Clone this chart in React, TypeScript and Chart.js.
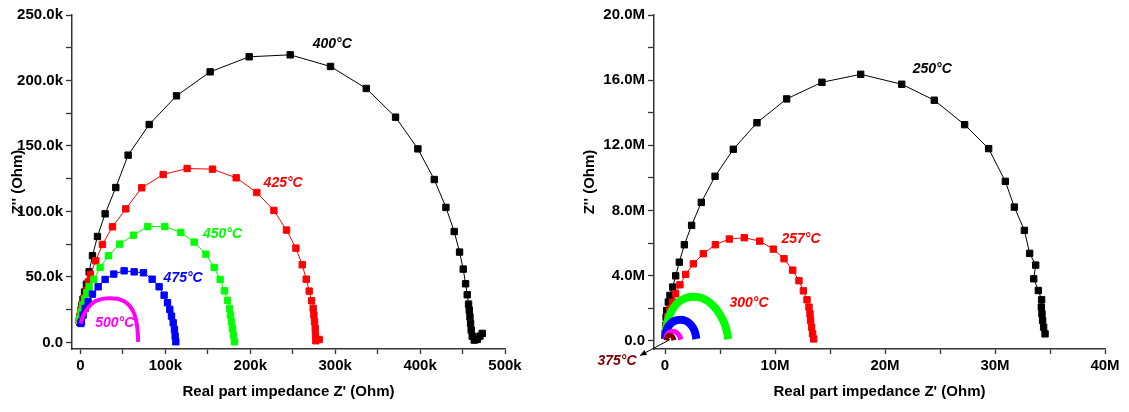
import React, { useEffect, useRef } from "react";
import { Chart, registerables } from "chart.js";

Chart.register(...registerables);

// ---------------- Left panel data (kOhm) ----------------
const l400X = [-1.0, -0.5, 0.3, 1.5, 3.0, 4.8, 7.0, 10.2, 14.1, 20.0, 29.0, 41.6, 56.1, 80.9, 113.1, 152.7, 198.7, 247.0, 294.5, 336.6, 371.1, 397.4, 416.7, 430.4, 440.2, 446.5, 450.8, 453.6, 455.5, 457.1, 457.9, 458.7, 459.5, 460.2, 461.4, 463.8, 467.3, 470.5, 473.2];
const l400Y = [15.5, 19.0, 23.5, 28.5, 33.0, 38.5, 44.5, 53.9, 66.2, 80.9, 98.2, 118.3, 143.0, 166.4, 188.3, 206.6, 218.1, 219.6, 210.7, 193.9, 172.0, 147.8, 124.4, 103.1, 84.7, 69.0, 56.0, 44.8, 36.4, 29.3, 24.7, 19.6, 14.5, 9.4, 4.8, 1.8, 2.3, 4.8, 6.9];

const l425X = [-1.6, -0.8, 0.3, 1.9, 4.3, 7.0, 9.4, 11.7, 18.0, 25.9, 37.7, 53.4, 72.2, 97.4, 125.6, 155.5, 183.4, 207.7, 227.8, 242.7, 253.7, 261.2, 265.9, 269.4, 272.2, 274.1, 274.9, 275.7, 276.5, 276.8, 277.2, 281.2];
const l425Y = [16.5, 20.0, 24.5, 28.5, 34.1, 39.9, 46.3, 51.9, 62.3, 74.8, 88.3, 102.0, 118.1, 128.2, 132.8, 132.3, 125.7, 114.5, 100.8, 85.8, 72.0, 59.3, 48.3, 39.2, 31.8, 26.0, 20.9, 15.8, 10.7, 5.6, 1.3, 2.3];

const l450X = [-0.8, -0.5, 0.7, 2.7, 5.1, 7.5, 10.2, 15.7, 23.1, 33.0, 46.3, 62.4, 79.3, 99.3, 118.2, 133.9, 147.7, 157.5, 164.5, 169.6, 173.2, 175.6, 176.7, 177.9, 179.0, 180.2, 181.4];
const l450Y = [16.5, 18.3, 23.4, 28.5, 33.1, 37.9, 42.5, 48.1, 57.3, 66.2, 75.1, 81.9, 88.5, 88.5, 84.0, 76.6, 67.4, 57.3, 48.1, 39.4, 32.1, 26.0, 20.9, 15.8, 10.7, 5.6, 0.5];

const l475X = [0.5, 1.1, 3.1, 5.5, 9.0, 14.1, 20.8, 29.0, 39.2, 51.4, 63.2, 74.2, 84.4, 92.6, 98.5, 102.5, 105.2, 107.2, 109.2, 110.7, 111.5, 112.3];
const l475Y = [14.5, 15.8, 20.9, 26.0, 31.0, 36.9, 42.5, 48.1, 52.2, 54.7, 53.9, 53.2, 48.3, 42.5, 36.1, 30.3, 25.2, 20.1, 15.0, 9.9, 4.8, 0.5];

const l500X = [0.0, 3.1, 7.0, 11.7, 18.0, 25.9, 34.5, 43.2, 50.2, 55.7, 60.0, 63.2, 65.2, 66.7, 67.5, 67.9];
const l500Y = [14.5, 20.1, 24.7, 28.5, 31.6, 33.3, 33.8, 33.3, 31.8, 29.3, 26.0, 22.1, 17.6, 12.5, 6.9, 0.5];

// ---------------- Right panel data (MOhm) ----------------
const r250X = [0.02, 0.06, 0.1, 0.15, 0.3, 0.45, 0.7, 0.97, 1.3, 1.76, 2.42, 3.3, 4.55, 6.21, 8.36, 11.06, 14.27, 17.79, 21.52, 24.48, 27.24, 29.42, 30.94, 31.76, 32.67, 33.15, 33.7, 33.52, 33.94, 34.24, 34.21, 34.27, 34.33, 34.42, 34.55];
const r250Y = [0.5, 0.95, 1.45, 1.86, 2.38, 2.79, 3.3, 3.99, 4.83, 5.9, 7.09, 8.5, 10.1, 11.76, 13.39, 14.85, 15.87, 16.36, 15.75, 14.77, 13.27, 11.8, 9.79, 8.21, 6.78, 5.37, 4.65, 3.81, 3.09, 2.52, 2.07, 1.66, 1.25, 0.84, 0.43];

const r257X = [0.02, 0.09, 0.24, 0.45, 0.7, 0.97, 1.36, 1.88, 2.58, 3.48, 4.58, 5.85, 7.21, 8.61, 9.85, 10.82, 11.61, 12.18, 12.58, 12.91, 13.09, 13.18, 13.24, 13.33, 13.42, 13.52];
const r257Y = [0.43, 0.94, 1.49, 1.97, 2.38, 2.89, 3.44, 4.08, 4.73, 5.35, 5.9, 6.25, 6.33, 6.12, 5.63, 5.04, 4.34, 3.69, 3.07, 2.52, 2.07, 1.66, 1.25, 0.84, 0.43, 0.12];

const r300X = [0.02, 0.1, 0.25, 0.5, 0.85, 1.3, 1.85, 2.45, 3.05, 3.6, 4.15, 4.65, 5.1, 5.45, 5.65, 5.75];
const r300Y = [0.25, 0.75, 1.25, 1.7, 2.1, 2.42, 2.62, 2.7, 2.68, 2.55, 2.3, 1.95, 1.5, 1.0, 0.5, 0.1];

const r325X = [0.0, 0.07, 0.22, 0.48, 0.85, 1.35, 1.85, 2.25, 2.55, 2.75, 2.85];
const r325Y = [0.1, 0.45, 0.78, 1.04, 1.22, 1.3, 1.24, 1.06, 0.8, 0.48, 0.12];

const r350X = [0.05, 0.12, 0.3, 0.6, 0.9, 1.15, 1.35, 1.45];
const r350Y = [0.08, 0.3, 0.48, 0.58, 0.56, 0.45, 0.27, 0.08];

const r375X = [0.12, 0.15, 0.28, 0.48, 0.65, 0.76, 0.8];
const r375Y = [0.03, 0.18, 0.3, 0.34, 0.28, 0.16, 0.03];

// ---------------- Tick labels ----------------
const leftXTickValues = [0, 100, 200, 300, 400, 500];
const leftXTickLabels = ["0", "100k", "200k", "300k", "400k", "500k"];
const leftYTickValues = [0, 50, 100, 150, 200, 250];
const leftYTickLabels = ["0.0", "50.0k", "100.0k", "150.0k", "200.0k", "250.0k"];
const rightXTickValues = [0, 10, 20, 30, 40];
const rightXTickLabels = ["0", "10M", "20M", "30M", "40M"];
const rightYTickValues = [0, 4, 8, 12, 16, 20];
const rightYTickLabels = ["0.0", "4.0M", "8.0M", "12.0M", "16.0M", "20.0M"];

// ---------------- Annotation texts and anchors (data units) ----------------
const leftLabelTexts = ["400°C", "425°C", "450°C", "475°C", "500°C"];
const leftLabelX = [296.5, 238.7, 167.3, 120.9, 40.4];
const leftLabelY = [227.5, 121.8, 82.4, 48.9, 14.5];
const rightLabelTexts = ["250°C", "257°C", "300°C", "375°C"];
const rightLabelX = [24.3, 12.36, 7.64, -4.36];
const rightLabelY = [16.66, 6.24, 2.33, -1.27];
const arrowFrom = { x: 0.45, y: 0.08 };
const arrowTo = { x: -2.27, y: -0.9 };

// ---------------- Styles ----------------
const FONT = "'Liberation Sans', Arial, Helvetica, sans-serif";
const BLACK = "#000000";
const RED = "#ff0000";
const GREEN = "#00ff00";
const BLUE = "#0000ff";
const MAGENTA = "#ff00ff";
const DARKRED = "#800000";
const leftLabelColors = [BLACK, RED, GREEN, BLUE, MAGENTA];
const rightLabelColors = [BLACK, RED, RED, DARKRED];

function pts(xs: number[], ys: number[]) {
  return xs.map((x, i) => ({ x, y: ys[i] }));
}

function markerSeries(xs: number[], ys: number[], color: string, extra: any = {}) {
  return {
    data: pts(xs, ys),
    borderColor: color,
    backgroundColor: color,
    showLine: true,
    pointStyle: "rect",
    pointRadius: 4.5,
    pointBorderWidth: 1,
    borderWidth: 1,
    tension: 0,
    ...extra,
  };
}

function bandSeries(xs: number[], ys: number[], color: string, width: number) {
  return {
    data: pts(xs, ys),
    borderColor: color,
    backgroundColor: color,
    showLine: true,
    pointRadius: 0,
    borderWidth: width,
    tension: 0.35,
  };
}

function labelPlugin(texts: string[], xs: number[], ys: number[], colors: string[], arrow?: { from: any; to: any }) {
  return {
    id: "tempLabels",
    afterDraw(chart: any) {
      const { ctx } = chart;
      const sx = chart.scales.x;
      const sy = chart.scales.y;
      ctx.save();
      ctx.font = `italic bold 14px ${FONT}`;
      ctx.textAlign = "center";
      ctx.textBaseline = "middle";
      texts.forEach((t, i) => {
        ctx.fillStyle = colors[i];
        ctx.fillText(t, sx.getPixelForValue(xs[i]), sy.getPixelForValue(ys[i]));
      });
      if (arrow) {
        const x1 = sx.getPixelForValue(arrow.from.x);
        const y1 = sy.getPixelForValue(arrow.from.y);
        const x2 = sx.getPixelForValue(arrow.to.x);
        const y2 = sy.getPixelForValue(arrow.to.y);
        ctx.strokeStyle = "#000";
        ctx.fillStyle = "#000";
        ctx.lineWidth = 1;
        ctx.beginPath();
        ctx.moveTo(x1, y1);
        ctx.lineTo(x2, y2);
        ctx.stroke();
        const ang = Math.atan2(y2 - y1, x2 - x1);
        const L = 7;
        ctx.beginPath();
        ctx.moveTo(x2, y2);
        ctx.lineTo(x2 - L * Math.cos(ang - 0.4), y2 - L * Math.sin(ang - 0.4));
        ctx.lineTo(x2 - L * Math.cos(ang + 0.4), y2 - L * Math.sin(ang + 0.4));
        ctx.closePath();
        ctx.fill();
      }
      ctx.restore();
    },
  };
}

function makeScales(cfg: {
  xMin: number; xMax: number; xStep: number; xVals: number[]; xLabels: string[];
  yMin: number; yMax: number; yStep: number; yVals: number[]; yLabels: string[];
  yWidth: number; yTitlePad: number;
}) {
  const tickFont = { family: FONT, size: 15, weight: "bold" as const };
  const titleFont = { family: FONT, size: 15, weight: "bold" as const };
  return {
    x: {
      type: "linear" as const,
      min: cfg.xMin,
      max: cfg.xMax,
      ticks: {
        stepSize: cfg.xStep,
        includeBounds: false,
        autoSkip: false,
        maxRotation: 0,
        color: "#000",
        font: tickFont,
        padding: 3,
        callback: (v: any) => {
          const i = cfg.xVals.indexOf(Number(v));
          return i >= 0 ? cfg.xLabels[i] : "";
        },
      },
      grid: { display: true, drawOnChartArea: false, drawTicks: true, tickLength: 5, tickColor: "#333", tickWidth: 1.3 },
      border: { display: true, color: "#333", width: 1.5 },
      title: {
        display: true,
        text: "Real part impedance Z' (Ohm)",
        color: "#000",
        font: titleFont,
        padding: { top: 4, bottom: 11 },
      },
      afterFit: (s: any) => {
        s.height = 63;
      },
    },
    y: {
      type: "linear" as const,
      min: cfg.yMin,
      max: cfg.yMax,
      ticks: {
        stepSize: cfg.yStep,
        includeBounds: false,
        autoSkip: false,
        color: "#000",
        font: tickFont,
        padding: 3,
        callback: (v: any) => {
          const i = cfg.yVals.indexOf(Number(v));
          return i >= 0 ? cfg.yLabels[i] : "";
        },
      },
      grid: { display: true, drawOnChartArea: false, drawTicks: true, tickLength: 6, tickColor: "#333", tickWidth: 1.3 },
      border: { display: true, color: "#333", width: 1.5 },
      title: {
        display: true,
        text: "Z'' (Ohm)",
        color: "#000",
        font: titleFont,
        padding: { top: cfg.yTitlePad, bottom: 4 },
      },
      afterFit: (s: any) => {
        s.width = cfg.yWidth;
      },
    },
  };
}

function ChartCanvas(props: { build: (c: HTMLCanvasElement) => Chart; left: number; width: number }) {
  const ref = useRef<HTMLCanvasElement | null>(null);
  useEffect(() => {
    if (!ref.current) return;
    const ch = props.build(ref.current);
    return () => ch.destroy();
  }, []);
  return (
    <canvas
      ref={ref}
      width={props.width}
      height={412}
      style={{ position: "absolute", left: props.left, top: 0, width: props.width, height: 412 }}
    />
  );
}

function buildLeft(canvas: HTMLCanvasElement) {
  return new Chart(canvas, {
    type: "scatter",
    data: {
      datasets: [
        bandSeries(l500X, l500Y, MAGENTA, 4),
        markerSeries(l475X, l475Y, BLUE),
        markerSeries(l450X, l450Y, GREEN),
        markerSeries(l425X, l425Y, RED),
        markerSeries(l400X, l400Y, BLACK),
      ] as any,
    },
    options: {
      responsive: false,
      animation: false,
      devicePixelRatio: 1,
      layout: { padding: { left: 0, top: 15, right: 55, bottom: 0 } },
      plugins: { legend: { display: false }, tooltip: { enabled: false } },
      scales: makeScales({
        xMin: -10, xMax: 500, xStep: 50, xVals: leftXTickValues, xLabels: leftXTickLabels,
        yMin: -5, yMax: 250, yStep: 25, yVals: leftYTickValues, yLabels: leftYTickLabels,
        yWidth: 72, yTitlePad: 9,
      }) as any,
    },
    plugins: [labelPlugin(leftLabelTexts, leftLabelX, leftLabelY, leftLabelColors)],
  });
}

function buildRight(canvas: HTMLCanvasElement) {
  return new Chart(canvas, {
    type: "scatter",
    data: {
      datasets: [
        bandSeries(r375X, r375Y, DARKRED, 5),
        bandSeries(r350X, r350Y, MAGENTA, 5),
        bandSeries(r325X, r325Y, BLUE, 8),
        bandSeries(r300X, r300Y, GREEN, 8),
        markerSeries(r257X, r257Y, RED),
        markerSeries(r250X, r250Y, BLACK),
      ] as any,
    },
    options: {
      responsive: false,
      animation: false,
      devicePixelRatio: 1,
      layout: { padding: { left: 0, top: 15, right: 24, bottom: 0 } },
      plugins: { legend: { display: false }, tooltip: { enabled: false } },
      scales: makeScales({
        xMin: -1, xMax: 40, xStep: 5, xVals: rightXTickValues, xLabels: rightXTickLabels,
        yMin: -0.5, yMax: 20, yStep: 2, yVals: rightYTickValues, yLabels: rightYTickLabels,
        yWidth: 94, yTitlePad: 21,
      }) as any,
    },
    plugins: [labelPlugin(rightLabelTexts, rightLabelX, rightLabelY, rightLabelColors, { from: arrowFrom, to: arrowTo })],
  });
}

export default function App() {
  return (
    <div style={{ position: "absolute", left: 0, top: 0, width: 1129, height: 412, background: "#fff" }}>
      <ChartCanvas build={buildLeft} left={0} width={560} />
      <ChartCanvas build={buildRight} left={560} width={569} />
    </div>
  );
}
